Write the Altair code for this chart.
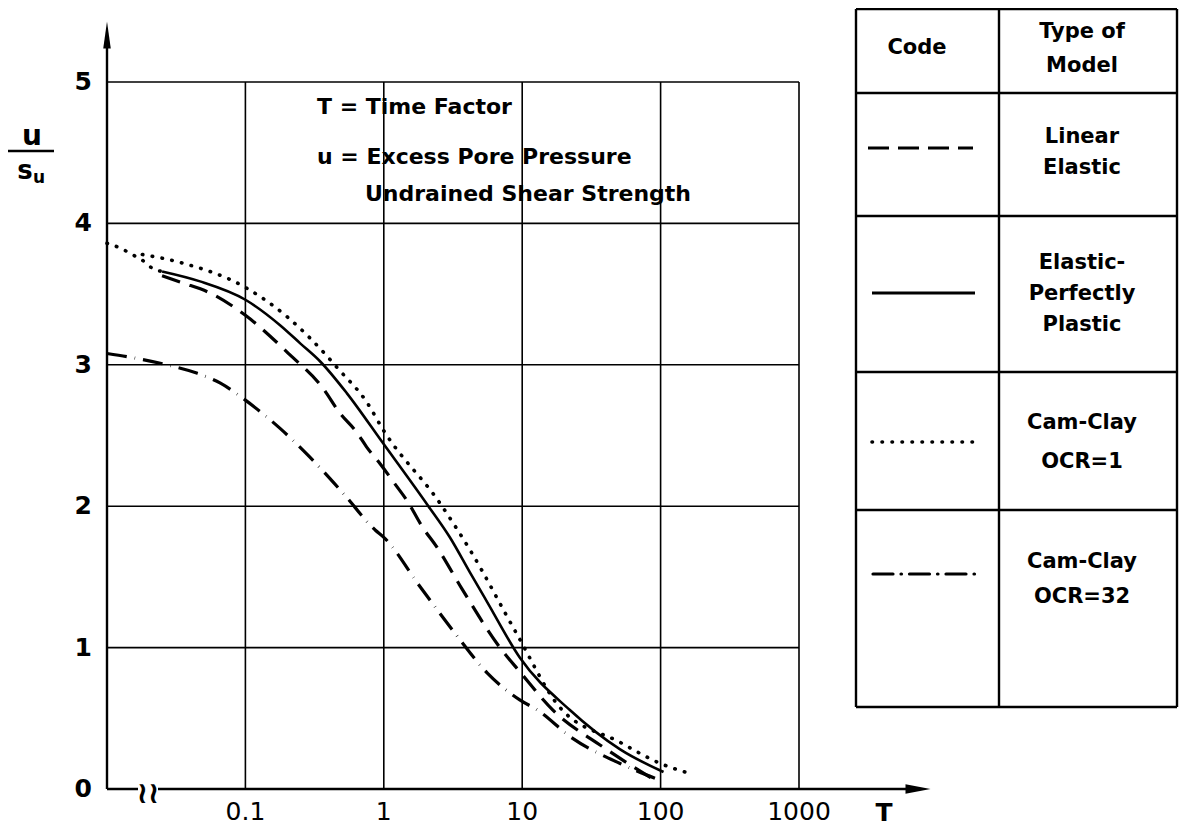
import altair as alt
import pandas as pd

# ---------------- data ----------------
# Elastic-Perfectly Plastic (solid)
ep_T = [0.025, 0.047, 0.1, 0.178, 0.25, 0.35, 0.54, 0.98, 2.1, 3.0, 4.2, 5.6, 9.6, 22, 51, 105]
ep_u = [3.66, 3.59, 3.46, 3.28, 3.15, 3.02, 2.80, 2.45, 2.00, 1.78, 1.53, 1.32, 0.93, 0.56, 0.28, 0.12]

# Linear Elastic (dashed)
le_T = [0.025, 0.035, 0.055, 0.1, 0.21, 0.36, 0.48, 0.64, 0.75, 0.94, 1.24, 1.47, 1.91, 2.42, 3.7, 6.9, 9.6, 16.6, 38, 88]
le_u = [3.63, 3.58, 3.51, 3.35, 3.07, 2.84, 2.66, 2.52, 2.42, 2.30, 2.14, 2.04, 1.85, 1.71, 1.41, 1.00, 0.83, 0.56, 0.30, 0.07]

# Cam-Clay OCR=1 (dotted)
cc1_T = [0.018, 0.035, 0.103, 0.2, 0.39, 0.46, 0.76, 0.99, 2.55, 4.2, 9.1, 18.6, 51, 100, 163]
cc1_u = [3.78, 3.72, 3.54, 3.34, 3.06, 2.98, 2.73, 2.54, 2.02, 1.69, 1.10, 0.58, 0.33, 0.18, 0.11]

# Cam-Clay OCR=32 (dash-dot)
cc32_T = [0.01, 0.0155, 0.027, 0.045, 0.066, 0.1, 0.178, 0.29, 0.51, 0.87, 1.0, 1.83, 3.16, 5.6, 9.6, 12.8, 23, 51, 100]
cc32_u = [3.08, 3.05, 3.00, 2.94, 2.87, 2.75, 2.55, 2.35, 2.09, 1.83, 1.78, 1.43, 1.12, 0.82, 0.63, 0.56, 0.36, 0.18, 0.06]

# dotted extrapolation toward the axis
ext_T = [0.01, 0.0128, 0.0152, 0.018, 0.0215, 0.025]
ext_u = [3.86, 3.82, 3.78, 3.74, 3.68, 3.66]

x_ticks = [0.1, 1, 10, 100, 1000]
x_tick_labels = ["0.1", "1", "10", "100", "1000"]
y_ticks = [0, 1, 2, 3, 4, 5]
y_tick_labels = ["0", "1", "2", "3", "4", "5"]

notes = ["T = Time Factor", "u = Excess Pore Pressure", "Undrained Shear Strength"]
legend_header = ["Code", "Type of", "Model"]
legend_models = [["Linear", "Elastic"], ["Elastic-", "Perfectly", "Plastic"],
                 ["Cam-Clay", "OCR=1"], ["Cam-Clay", "OCR=32"]]

# ---------------- layout ----------------
W, H = 692, 707
FONT = "DejaVu Sans"
xs = alt.Scale(type="log", domain=[0.01, 1000], nice=False)
ys = alt.Scale(domain=[0, 5], nice=False, zero=False)
one = alt.Data(values=[{"a": 1}])

rows = []
for name, T, U in [("ep", ep_T, ep_u), ("le", le_T, le_u), ("cc1", cc1_T, cc1_u),
                   ("cc32", cc32_T, cc32_u), ("ext", ext_T, ext_u)]:
    for t, u in zip(T, U):
        rows.append({"series": name, "T": t, "u": u})
curves = pd.DataFrame(rows)


def curve(name, width, dash=None, cap="butt"):
    kw = dict(color="black", strokeWidth=width, strokeCap=cap, interpolate="monotone")
    if dash is not None:
        kw["strokeDash"] = dash
    return (alt.Chart(curves).transform_filter(alt.datum.series == name)
            .mark_line(**kw)
            .encode(x=alt.X("T:Q", scale=xs, axis=None),
                    y=alt.Y("u:Q", scale=ys, axis=None)))


def txt(s, x, y, size=21, weight="bold", align="center", baseline="middle"):
    return alt.Chart(one).mark_text(text=s, font=FONT, fontSize=size, fontWeight=weight,
                                    align=align, baseline=baseline, color="black").encode(
        x=alt.value(x), y=alt.value(y))


def hline(x1, x2, y, width=2.2, dash=None, cap="butt"):
    kw = dict(color="black", strokeWidth=width, strokeCap=cap)
    if dash is not None:
        kw["strokeDash"] = dash
    return alt.Chart(one).mark_rule(**kw).encode(x=alt.value(x1), x2=alt.value(x2), y=alt.value(y))


def vline(x1, x2, y1, y2, width=2.2):
    return alt.Chart(one).mark_rule(color="black", strokeWidth=width).encode(
        x=alt.value(x1), x2=alt.value(x2), y=alt.value(y1), y2=alt.value(y2))


layers = []

# grid
layers.append(alt.Chart(pd.DataFrame({"t": x_ticks})).mark_rule(color="black", strokeWidth=1.6).encode(
    x=alt.X("t:Q", scale=xs, axis=None), y=alt.value(0), y2=alt.value(H)))
layers.append(alt.Chart(pd.DataFrame({"v": y_ticks[1:]})).mark_rule(color="black", strokeWidth=1.6).encode(
    y=alt.Y("v:Q", scale=ys, axis=None), x=alt.value(0), x2=alt.value(W)))

# axes with arrows
layers.append(vline(0, 0, H, -46, width=2.4))
layers.append(hline(0, 812, H, width=2.5))
layers.append(alt.Chart(one).mark_point(shape="M0,-1L0.28,1L-0.28,1Z", size=729, filled=True,
                                        color="black", opacity=1).encode(x=alt.value(0), y=alt.value(-47)))
layers.append(alt.Chart(one).mark_point(shape="M1,0L-1,0.38L-1,-0.38Z", size=625, filled=True,
                                        color="black", opacity=1).encode(x=alt.value(811), y=alt.value(H)))
# axis break
layers.append(alt.Chart(one).mark_rect(color="white").encode(
    x=alt.value(31), x2=alt.value(51), y=alt.value(H - 4), y2=alt.value(H + 4)))
layers.append(txt("≀≀", 41, H + 5, size=30, weight="bold"))

# tick labels
layers.append(alt.Chart(pd.DataFrame({"t": x_ticks, "lab": x_tick_labels})).mark_text(
    font=FONT, fontSize=25, baseline="alphabetic", color="black").encode(
    x=alt.X("t:Q", scale=xs, axis=None), y=alt.value(H + 31), text="lab:N"))
layers.append(alt.Chart(pd.DataFrame({"v": y_ticks, "lab": y_tick_labels})).mark_text(
    font=FONT, fontSize=25, fontWeight="bold", align="right", baseline="middle", color="black").encode(
    y=alt.Y("v:Q", scale=ys, axis=None), x=alt.value(-15), text="lab:N"))
layers.append(txt("T", 777, H + 32, size=25, baseline="alphabetic"))

# y title u / s_u
layers.append(txt("u", -75, 55, size=28))
layers.append(hline(-99, -53, 69, width=2.5))
layers.append(txt("s", -82, 89, size=26))
layers.append(txt("u", -68, 96, size=17))

# notes
layers.append(txt(notes[0], 210, 25, size=22, align="left"))
layers.append(txt(notes[1], 210, 75, size=22, align="left"))
layers.append(txt(notes[2], 258, 112, size=22, align="left"))

# curves
layers.append(curve("le", 3.2, dash=[19, 10]))
layers.append(curve("ep", 2.6))
layers.append(curve("cc1", 3.6, dash=[0.5, 9.5], cap="round"))
layers.append(curve("ext", 3.6, dash=[0.5, 9.5], cap="round"))
layers.append(curve("cc32", 3.2, dash=[20, 8, 0.5, 8], cap="butt"))

# legend table
TL, TM, TR = 749, 892, 1070
rows_y = [-73, 11, 134, 290, 428, 625]
for y in rows_y:
    layers.append(hline(TL, TR, y, width=2.4))
for x in (TL, TM, TR):
    layers.append(vline(x, x, rows_y[0], rows_y[-1], width=2.4))
CX = 975
layers.append(txt(legend_header[0], 810, -34))
layers.append(txt(legend_header[1], CX, -50))
layers.append(txt(legend_header[2], CX, -16))
layers.append(txt(legend_models[0][0], CX, 55))
layers.append(txt(legend_models[0][1], CX, 86))
layers.append(txt(legend_models[1][0], CX, 181))
layers.append(txt(legend_models[1][1], CX, 212))
layers.append(txt(legend_models[1][2], CX, 243))
layers.append(txt(legend_models[2][0], CX, 341))
layers.append(txt(legend_models[2][1], CX, 380))
layers.append(txt(legend_models[3][0], CX, 480))
layers.append(txt(legend_models[3][1], CX, 515))
layers.append(hline(761, 866, 66, width=3.2, dash=[21, 9]))
layers.append(hline(765, 868, 211, width=3.2))
layers.append(hline(765, 873, 360, width=3.6, dash=[0.5, 9.5], cap="round"))
layers.append(hline(766, 873, 492, width=3.2, dash=[20, 8, 0.5, 8], cap="round"))

chart = alt.layer(*layers).properties(
    width=W, height=H,
    autosize=alt.AutoSizeParams(type="none"),
    padding={"left": 99, "top": 74, "right": 380, "bottom": 42},
    background="white",
).configure_view(stroke=None)

chart.save("out.html", embed_options={"renderer": "svg", "actions": False})
